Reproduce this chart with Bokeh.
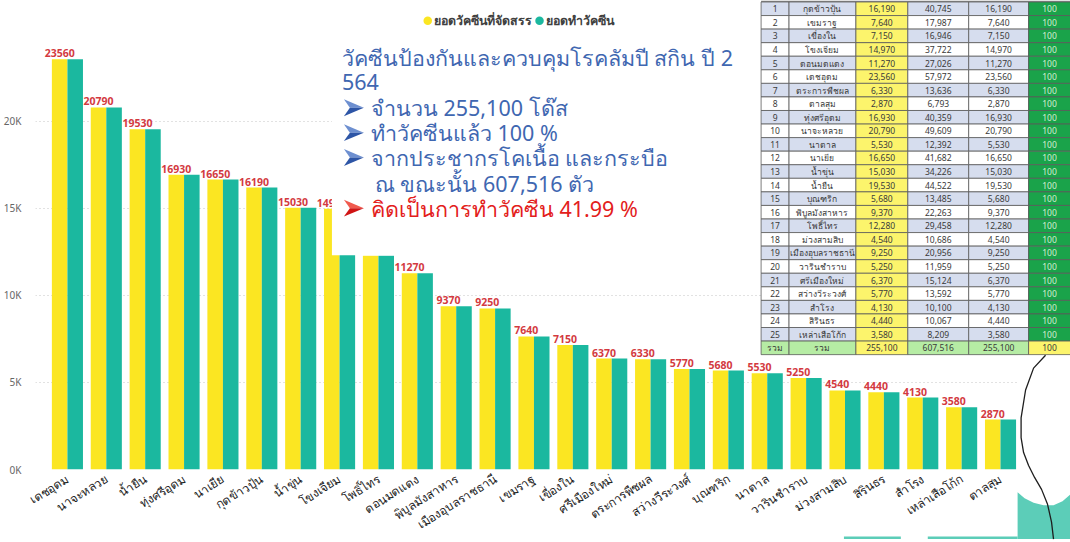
from bokeh.plotting import figure
from bokeh.models import Range1d, FixedTicker, ColumnDataSource
from bokeh.core.properties import value
from bokeh.transform import dodge
from bokeh.embed import file_html
from bokeh.resources import INLINE

# ---------------- data (table order = district number) ----------------
district_no = ["1", "2", "3", "4", "5", "6", "7", "8", "9", "10", "11", "12", "13",
               "14", "15", "16", "17", "18", "19", "20", "21", "22", "23", "24", "25"]
districts = ["กุดข้าวปุ้น", "เขมราฐ", "เขื่องใน", "โขงเจียม", "ดอนมดแดง", "เดชอุดม",
             "ตระการพืชผล", "ตาลสุม", "ทุ่งศรีอุดม", "นาจะหลวย", "นาตาล", "นาเยีย",
             "น้ำขุ่น", "น้ำยืน", "บุณฑริก", "พิบูลมังสาหาร", "โพธิ์ไทร", "ม่วงสามสิบ",
             "เมืองอุบลราชธานี", "วารินชำราบ", "ศรีเมืองใหม่", "สว่างวีระวงศ์", "สำโรง",
             "สิรินธร", "เหล่าเสือโก้ก"]
allocated = [16190, 7640, 7150, 14970, 11270, 23560, 6330, 2870, 16930, 20790, 5530,
             16650, 15030, 19530, 5680, 9370, 12280, 4540, 9250, 5250, 6370, 5770,
             4130, 4440, 3580]
population = [40745, 17987, 16946, 37722, 27026, 57972, 13636, 6793, 40359, 49609,
              12392, 41682, 34226, 44522, 13485, 22263, 29458, 10686, 20956, 11959,
              15124, 13592, 10100, 10067, 8209]
vaccinated = [16190, 7640, 7150, 14970, 11270, 23560, 6330, 2870, 16930, 20790, 5530,
              16650, 15030, 19530, 5680, 9370, 12280, 4540, 9250, 5250, 6370, 5770,
              4130, 4440, 3580]
percent = [100, 100, 100, 100, 100, 100, 100, 100, 100, 100, 100, 100, 100, 100, 100,
           100, 100, 100, 100, 100, 100, 100, 100, 100, 100]
total_label = "รวม"
series_names = ["ยอดวัคซีนที่จัดสรร", "ยอดทำวัคซีน"]
y_ticks = [0, 5000, 10000, 15000, 20000]
y_tick_labels = ["0K", "5K", "10K", "15K", "20K"]

# chart is sorted by allocated, descending
order = sorted(range(len(districts)), key=lambda i: -allocated[i])
c_names = [districts[i] for i in order]
c_alloc = [allocated[i] for i in order]
c_vacc = [vaccinated[i] for i in order]

tot_alloc = sum(allocated)
tot_pop = sum(population)
tot_vacc = sum(vaccinated)
rate = tot_vacc / tot_pop * 100

# ---------------- style ----------------
YEL = "#fbe622"
TEAL = "#1bb89f"
RED_LBL = "#d33a3f"
BLUE = "#3f67b1"
RED = "#e3201b"
DECO = "#5ccdb8"

W, H = 1070, 542
FL, FR, FT, FB = 33, 1070, 0, 472   # frame box in page pixels

p = figure(width=W, height=H, output_backend="svg", toolbar_location=None,
           x_range=Range1d(-0.821, 25.80), y_range=Range1d(0, 26930),
           min_border_left=FL, min_border_right=W - FR, min_border_top=FT,
           min_border_bottom=H - FB)
p.extra_x_ranges = {"px": Range1d(FL, FR)}
p.extra_y_ranges = {"py": Range1d(FB, FT)}
p.outline_line_color = None
p.background_fill_color = "white"
p.border_fill_color = "white"

# axes
yax = p.yaxis[0]
yax.ticker = FixedTicker(ticks=y_ticks)
yax.major_label_overrides = {t: l for t, l in zip(y_ticks, y_tick_labels)}
yax.axis_line_color = None
yax.major_tick_line_color = None
yax.minor_tick_line_color = None
yax.major_label_text_font = "Noto Sans"
yax.major_label_text_font_size = "10px"
yax.major_label_text_color = "#666666"
yax.major_label_standoff = 8

xax = p.xaxis[0]
xax.ticker = FixedTicker(ticks=list(range(len(c_names))))
xax.major_label_overrides = {i: n for i, n in enumerate(c_names)}
xax.major_label_orientation = 0.56
xax.axis_line_color = None
xax.major_tick_line_color = None
xax.minor_tick_line_color = None
xax.major_label_text_font = "Noto Sans"
xax.major_label_text_font_size = "12px"
xax.major_label_text_color = "#222222"
xax.major_label_standoff = 2

p.xgrid.grid_line_color = None
p.ygrid.grid_line_color = "#c4c4c4"
p.ygrid.grid_line_dash = "1 3"
p.ygrid.grid_line_width = 1

# ---------------- bars ----------------
src = ColumnDataSource(dict(idx=list(range(len(c_names))), name=c_names,
                            alloc=c_alloc, vacc=c_vacc,
                            lbl=[str(v) for v in c_alloc]))
p.vbar(x=dodge("idx", -0.2), top="alloc", bottom=0, width=0.4, source=src,
       fill_color=YEL, line_color=None, legend_label=series_names[0])
p.vbar(x=dodge("idx", 0.2), top="vacc", bottom=0, width=0.4, source=src,
       fill_color=TEAL, line_color=None, legend_label=series_names[1])
p.text(x=dodge("idx", -0.2), y="alloc", text="lbl", source=src, y_offset=-6,
       text_align="center", text_baseline="alphabetic", text_color=RED_LBL,
       text_font=value("Open Sans"), text_font_size="10.5px", text_font_style="bold")
p.legend.visible = False   # drawn below as dots + labels, like the original

PX = dict(x_range_name="px", y_range_name="py")

# legend row (dots + labels) at the top of the chart
p.scatter(x=[426, 538], y=[20.5, 20.5], marker="circle", size=8.5,
          fill_color=[YEL, TEAL], line_color=None, **PX)
p.text(x=[432, 544], y=[20, 20], text=series_names, text_align="left",
       text_baseline="middle", text_color="#404040", text_font=value("Noto Sans"),
       text_font_size="12.4px", text_font_style="bold", **PX)

# ---------------- text box (white panel over chart) ----------------
p.quad(left=[330], right=[760], top=[40], bottom=[256.3], fill_color="white",
       line_color=None, **PX)

box_lines = [
    (340, 57, "วัคซีนป้องกันและควบคุมโรคลัมปี สกิน ปี 2", BLUE),
    (340, 82, "564", BLUE),
    (369, 108, "จำนวน {:,} โด๊ส".format(tot_alloc), BLUE),
    (369, 133, "ทำวัคซีนแล้ว {:.0f} %".format(tot_vacc / tot_alloc * 100), BLUE),
    (369, 158, "จากประชากรโคเนื้อ และกระบือ", BLUE),
    (373, 184, "ณ ขณะนั้น {:,} ตัว".format(tot_pop), BLUE),
    (369, 209, "คิดเป็นการทำวัคซีน {:.2f} %".format(rate), RED),
]
p.text(x=[b[0] for b in box_lines], y=[b[1] for b in box_lines],
       text=[b[2] for b in box_lines], text_color=[b[3] for b in box_lines],
       text_align="left", text_baseline="middle", text_font=value("Noto Sans"),
       text_font_size="21.5px", **PX)

# bullet arrowheads (two-tone, like the slide's "➢" bullets)
ax_, ay_ = [342, 342, 342, 342], [108, 133, 158, 209]
up_x, up_y, lo_x, lo_y, up_c, lo_c = [], [], [], [], [], []
for k, (bx, by) in enumerate(zip(ax_, ay_)):
    up_x.append([bx, bx + 20, bx + 6]); up_y.append([by - 8.5, by, by])
    lo_x.append([bx + 6, bx + 20, bx]); lo_y.append([by, by, by + 8.5])
    red = k == 3
    up_c.append("#f05a4e" if red else "#6d8fd0")
    lo_c.append("#d01414" if red else "#2d55a6")
p.patches(xs=up_x, ys=up_y, fill_color=up_c, line_color=None, **PX)
p.patches(xs=lo_x, ys=lo_y, fill_color=lo_c, line_color=None, **PX)

# ---------------- table (top right) ----------------
col_edges = [760, 788, 855, 907, 968, 1028, 1070]
row_top0, row_h = 1.5, 13.65
rows = []
for i in range(len(districts)):
    rows.append([district_no[i], districts[i], "{:,}".format(allocated[i]),
                 "{:,}".format(population[i]), "{:,}".format(vaccinated[i]),
                 str(percent[i])])
rows.append([total_label, total_label, "{:,}".format(tot_alloc), "{:,}".format(tot_pop),
             "{:,}".format(tot_vacc), "{:.0f}".format(tot_vacc / tot_alloc * 100)])

ql, qr, qt, qb, qc = [], [], [], [], []
tx, ty, tt, tcol = [], [], [], []
for r, row in enumerate(rows):
    top = row_top0 + r * row_h
    bot = top + row_h
    is_total = r == len(rows) - 1
    for c in range(6):
        if c == 2:
            fc = "#fcf46c"
        elif c == 5:
            fc = "#fcf46c" if is_total else "#1aa34a"
        elif is_total:
            fc = "#b6eca4"
        else:
            fc = "#d6ddee" if r % 2 == 0 else "#ffffff"
        ql.append(col_edges[c]); qr.append(col_edges[c + 1]); qt.append(top); qb.append(bot)
        qc.append(fc)
        tx.append((col_edges[c] + col_edges[c + 1]) / 2)
        ty.append((top + bot) / 2)
        tt.append(row[c])
        tcol.append("#d4ecd2" if (c == 5 and not is_total) else "#3a3a3a")

p.quad(left=[760], right=[1070], top=[0], bottom=[row_top0], fill_color="#8a8a8a",
       line_color=None, **PX)
p.quad(left=ql, right=qr, top=qt, bottom=qb, fill_color=qc, line_color="#5a5a5a",
       line_width=0.8, **PX)
p.text(x=tx, y=ty, text=tt, text_color=tcol, text_align="center", text_baseline="middle",
       text_font=value("Noto Sans"), text_font_size="8.5px", **PX)

# cover right strip below table (no gridlines there in the original)
p.quad(left=[1017], right=[1070], top=[row_top0 + len(rows) * row_h + 1], bottom=[FB],
       fill_color="white", line_color=None, **PX)

# ---------------- decorative slide shapes (drawn unclipped at overlay level) -------
# each outline includes a zero-width spike up into the frame so it is not culled
deco_x = [
    [1017, 1017, 1024, 1033, 1043, 1053, 1062, 1070, 1070, 1070, 1070],
    [927, 927, 1017, 1017, 1017, 1017],
    [843, 843, 900, 900, 900, 900],
]
deco_y = [
    [542, 495, 501, 505.5, 508, 508, 504, 497, 465, 497, 542],
    [542, 539.5, 539.5, 465, 539.5, 542],
    [542, 539.5, 539.5, 465, 539.5, 542],
]
p.patches(xs=deco_x, ys=deco_y, fill_color=DECO, line_color=None, level="overlay", **PX)

curve_x = [1045, 1033, 1025, 1020.5, 1020.5, 1023, 1028, 1034, 1041, 1047, 1051, 1053]
curve_y = [357, 370, 392, 420, 440, 455, 468, 480, 492, 507, 525, 542]
p.line(x=curve_x, y=curve_y, line_color="#1e1e1e", line_width=1.3, level="overlay", **PX)

open("out.html", "w").write(file_html(p, INLINE))
